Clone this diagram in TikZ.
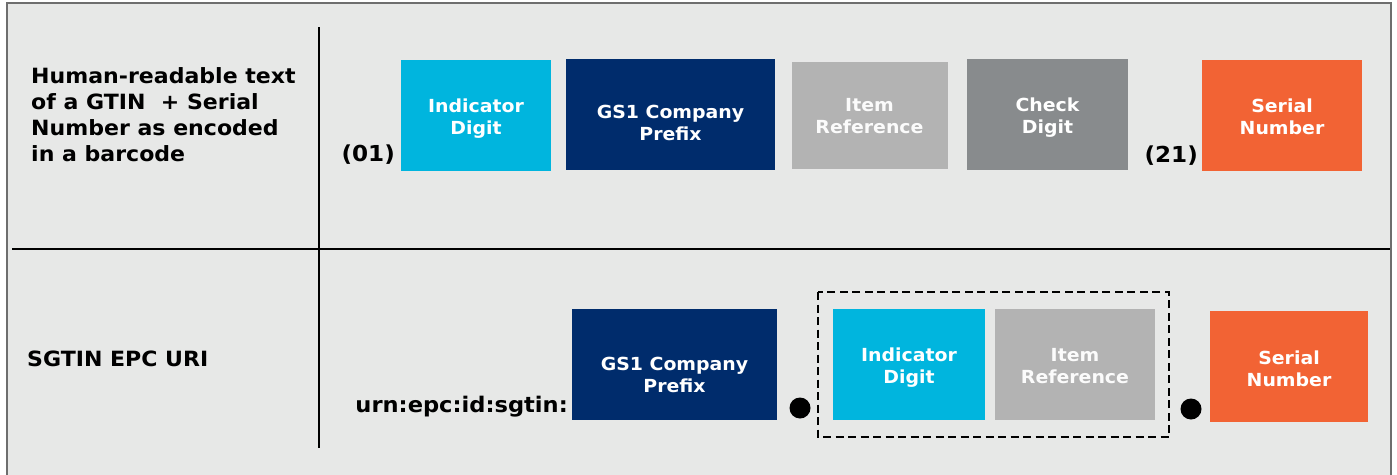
\documentclass[tikz,border=0pt]{standalone}
\usepackage{fontspec}
\setmainfont{DejaVu Sans}[FakeStretch=1.05]
\definecolor{bg}{HTML}{E7E8E7}
\definecolor{frame}{HTML}{6E6E6E}
\definecolor{gscyan}{HTML}{00B5DE}
\definecolor{gsnavy}{HTML}{002C6C}
\definecolor{gsltgray}{HTML}{B3B3B3}
\definecolor{gsgray}{HTML}{888B8D}
\definecolor{gsorange}{HTML}{F26334}
\tikzset{
  boxtext/.style={text=white, font=\fontsize{18}{22}\selectfont\bfseries, align=center, inner sep=0pt, anchor=base},
  labeltext/.style={text=black, font=\fontsize{21}{26}\selectfont\bfseries, inner sep=0pt},
  divider/.style={line width=2pt, black},
}
\begin{document}
\begin{tikzpicture}[x=1pt,y=-1pt]
\useasboundingbox (0,0) rectangle (1397,474);
\fill[white] (0,0) rectangle (1397,474);
\fill[bg] (7,3) rectangle (1391,480);
\draw[frame, line width=2.5pt] (7,480) -- (7,3) -- (1391,3) -- (1391,480);
% dividers
\draw[divider] (12,249) -- (1390,249);
\draw[divider] (319,27) -- (319,448);
% row labels
\node[labeltext, anchor=base west, align=left] (lab1) at (31,161)
  {Human-readable text\\of a GTIN\ \ + Serial\\Number as encoded\\in a barcode};
\node[labeltext, anchor=base west] (lab2) at (27,366) {SGTIN EPC URI};
% row 1
\node[labeltext, anchor=base east, font=\fontsize{22}{26}\selectfont\bfseries] (ai01) at (395,161) {(01)};
\fill[gscyan] (401,60) rectangle (551,171);
\node[boxtext] (ind1) at (476,134) {Indicator\\Digit};
\fill[gsnavy] (566,59) rectangle (775,170);
\node[boxtext] (gcp1) at (670.5,140) {GS1 Company\\Prefix};
\fill[gsltgray] (790,60) rectangle (949,170);
\draw[white!70!gsltgray, line width=1.5pt] (790.75,60.75) rectangle (948.25,169.25);
\node[boxtext, text=white!95!gsltgray] (ref1) at (869.5,133) {Item\\Reference};
\fill[gsgray] (967,59) rectangle (1128,170);
\node[boxtext] (chk1) at (1047.5,133) {Check\\Digit};
\node[labeltext, anchor=base east, font=\fontsize{22}{26}\selectfont\bfseries] (ai21) at (1198,162) {(21)};
\fill[gsorange] (1202,60) rectangle (1362,171);
\node[boxtext] (ser1) at (1282,134) {Serial\\Number};
% row 2
\node[labeltext, anchor=base east, font=\fontsize{21.5}{26}\selectfont\bfseries] (urn) at (568,412) {urn:epc:id:sgtin:};
\fill[gsnavy] (572,309) rectangle (777,420);
\node[boxtext] (gcp2) at (674.5,392) {GS1 Company\\Prefix};
\fill[black] (800,408) circle (10.5);
\node[coordinate] (dot1) at (800,408) {};
\draw[black, line width=2.2pt, dash pattern=on 8pt off 4.5pt] (818,292) rectangle (1169,437);
\fill[gscyan] (833,309) rectangle (985,420);
\node[boxtext] (ind2) at (909,383) {Indicator\\Digit};
\fill[gsltgray] (995,309) rectangle (1155,420);
\node[boxtext, text=white!95!gsltgray] (ref2) at (1075,383) {Item\\Reference};
\fill[black] (1191,409) circle (10.5);
\node[coordinate] (dot2) at (1191,409) {};
\fill[gsorange] (1210,311) rectangle (1368,422);
\node[boxtext] (ser2) at (1289,386) {Serial\\Number};
\end{tikzpicture}
\end{document}
